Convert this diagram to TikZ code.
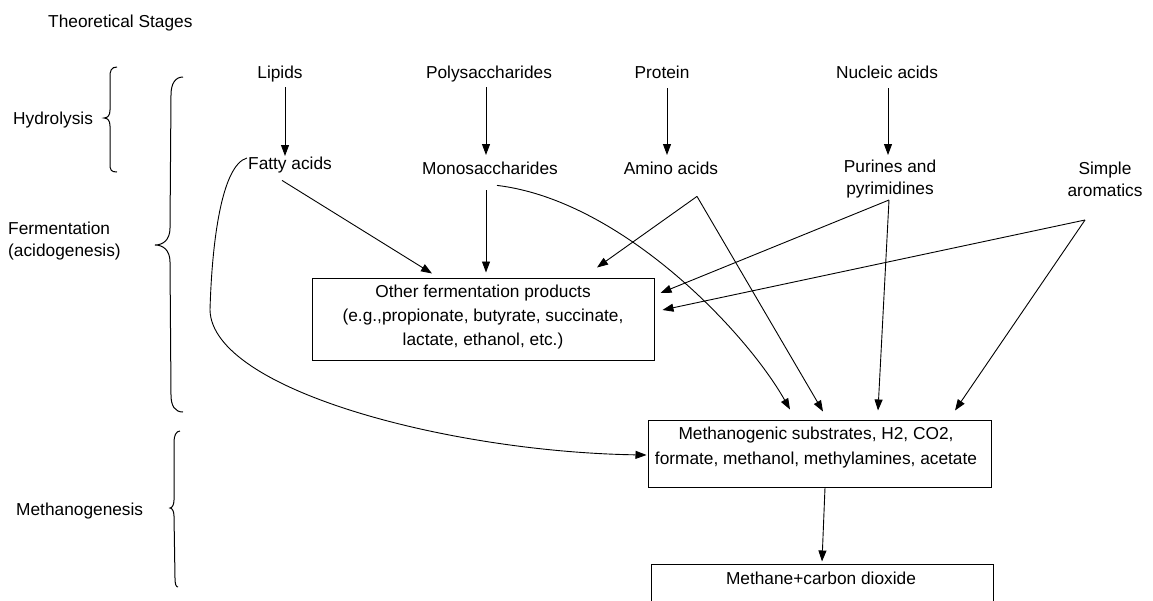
\documentclass[tikz,border=0pt]{standalone}
\usepackage{fontspec}
\setmainfont{Liberation Sans}
\usetikzlibrary{arrows.meta,calc}
\begin{document}
\begin{tikzpicture}[x=1pt,y=-1pt,
  every node/.style={font=\fontsize{17.3}{22}\selectfont},
  txt/.style={inner sep=0pt,text height=12.4pt,text depth=3.6pt,anchor=north},
  txttwo/.style={inner sep=0pt,align=center,anchor=north},
  boxnode/.style={draw,line width=1pt,inner sep=0pt},
  conn/.style={line width=0.9pt,-{Triangle[length=11pt,width=8pt]}},
  bracestyle/.style={line width=1pt}]
\useasboundingbox (0,0) rectangle (1153,600);
\clip (0,0) rectangle (1153,600);
\fill[white] (0,0) rectangle (1153,600);

% stage labels
\node[inner sep=0pt,anchor=north west,text height=12.4pt,text depth=3.6pt] (title) at (48,15) {Theoretical Stages};
\node[inner sep=0pt,anchor=north west,text height=12.4pt,text depth=3.6pt] (hydro) at (13,112) {Hydrolysis};
\node[inner sep=0pt,anchor=north west,align=left] (ferm) at (8,222) {Fermentation\\(acidogenesis)};
\node[inner sep=0pt,anchor=north west,text height=12.4pt,text depth=3.6pt] (methg) at (16,503) {Methanogenesis};

% braces
\draw[bracestyle] (117,67) .. controls (111,67) and (110,71) .. (110,77) -- (110,110)
  .. controls (110,115) and (108,118) .. (104,118) .. controls (108,118) and (110,121) .. (110,126)
  -- (110,164) .. controls (110,170) and (111,172) .. (117,172);
\draw[bracestyle] (183,77) .. controls (175,77) and (171,84) .. (171,95) -- (170,228)
  .. controls (170,240) and (163,245) .. (155,245) .. controls (163,245) and (170,250) .. (170,262)
  -- (171,395) .. controls (171,406) and (175,412) .. (183,412);
\draw[bracestyle] (180,431) .. controls (176,431) and (174,436) .. (174,442) -- (174,500)
  .. controls (174,505) and (172,508) .. (170,508) .. controls (172,508) and (174,511) .. (174,516)
  -- (175,578) .. controls (175,584) and (176,587) .. (178,587);

% top row
\node[txt] (lipids) at (280,66) {Lipids};
\node[txt] (poly) at (489,66) {Polysaccharides};
\node[txt] (protein) at (662,66) {Protein};
\node[txt] (nucleic) at (887,66) {Nucleic acids};

% second row
\node[txt] (fatty) at (290,157) {Fatty acids};
\node[txt] (mono) at (490,162) {Monosaccharides};
\node[txt] (amino) at (671,162) {Amino acids};
\node[txttwo] (purines) at (890,160) {Purines and\\pyrimidines};
\node[txttwo] (arom) at (1105,162) {Simple\\aromatics};

% boxes
\node[boxnode,minimum width=342pt,minimum height=82pt] (other) at (483,319) {};
\node[txttwo,font=\fontsize{17.3}{24}\selectfont] (othertxt) at (483,285)
  {Other fermentation products\\(e.g.,propionate, butyrate, succinate,\\lactate, ethanol, etc.)};
\node[boxnode,minimum width=343pt,minimum height=67pt] (ms) at (819.5,453.5) {};
\node[txttwo,font=\fontsize{17.3}{25}\selectfont] (mstxt) at (816,427)
  {Methanogenic substrates, H2, CO2,\\formate, methanol, methylamines, acetate};
\node[boxnode,minimum width=342pt,minimum height=76pt] (meth) at (822,602) {};
\node[txt] (methtxt) at (821,572) {Methane+carbon dioxide};

% hydrolysis arrows
\draw[conn] ($(lipids.south)+(5,5)$) -- ($(fatty.north)+(-5,-1)$);
\draw[conn] ($(poly.south)+(-3,5)$) -- ($(mono.north)+(-4,-7)$);
\draw[conn] ($(protein.south)+(5,6)$) -- ($(amino.north)+(-4,-7)$);
\draw[conn] ($(nucleic.south)+(1,6)$) -- ($(purines.north)+(-2,-5)$);

% to other fermentation products
\draw[conn] ($(fatty.south)+(-8,7)$) -- ($(other.north)+(-51,-4)$);
\draw[conn] ($(mono.south)+(-4,12)$) -- ($(other.north)+(3,-5)$);
\draw[conn] ($(amino.south)+(26,18)$) -- ($(other.north)+(114,-10)$);
\draw[conn] ($(purines.north)+(-1,40)$) -- ($(other.east)+(6,-26)$);
\draw[conn] ($(arom.north)+(-20,58)$) -- ($(other.east)+(8,-9)$);

% to methanogenic substrates
\draw[conn] ($(mono.south)+(7,7)$) .. controls (620,200) and (745,330) .. ($(ms.north)+(-29.5,-10)$);
\draw[conn] ($(amino.south)+(26,18)$) -- ($(ms.north)+(3.5,-8)$);
\draw[conn] ($(purines.north)+(-1,40)$) -- ($(ms.north)+(58.5,-9)$);
\draw[conn] ($(arom.north)+(-20,58)$) -- ($(ms.north)+(135.5,-9)$);
\draw[conn] ($(fatty.north west)+(-1,1)$) .. controls (222,165) and (212,240) .. (210,310)
  .. controls (212,390) and (450,452) .. ($(ms.west)+(-1,1.5)$);

% to methane
\draw[conn] ($(ms.south)+(5.5,0)$) -- ($(meth.north)+(0,-2)$);
\end{tikzpicture}
\end{document}
